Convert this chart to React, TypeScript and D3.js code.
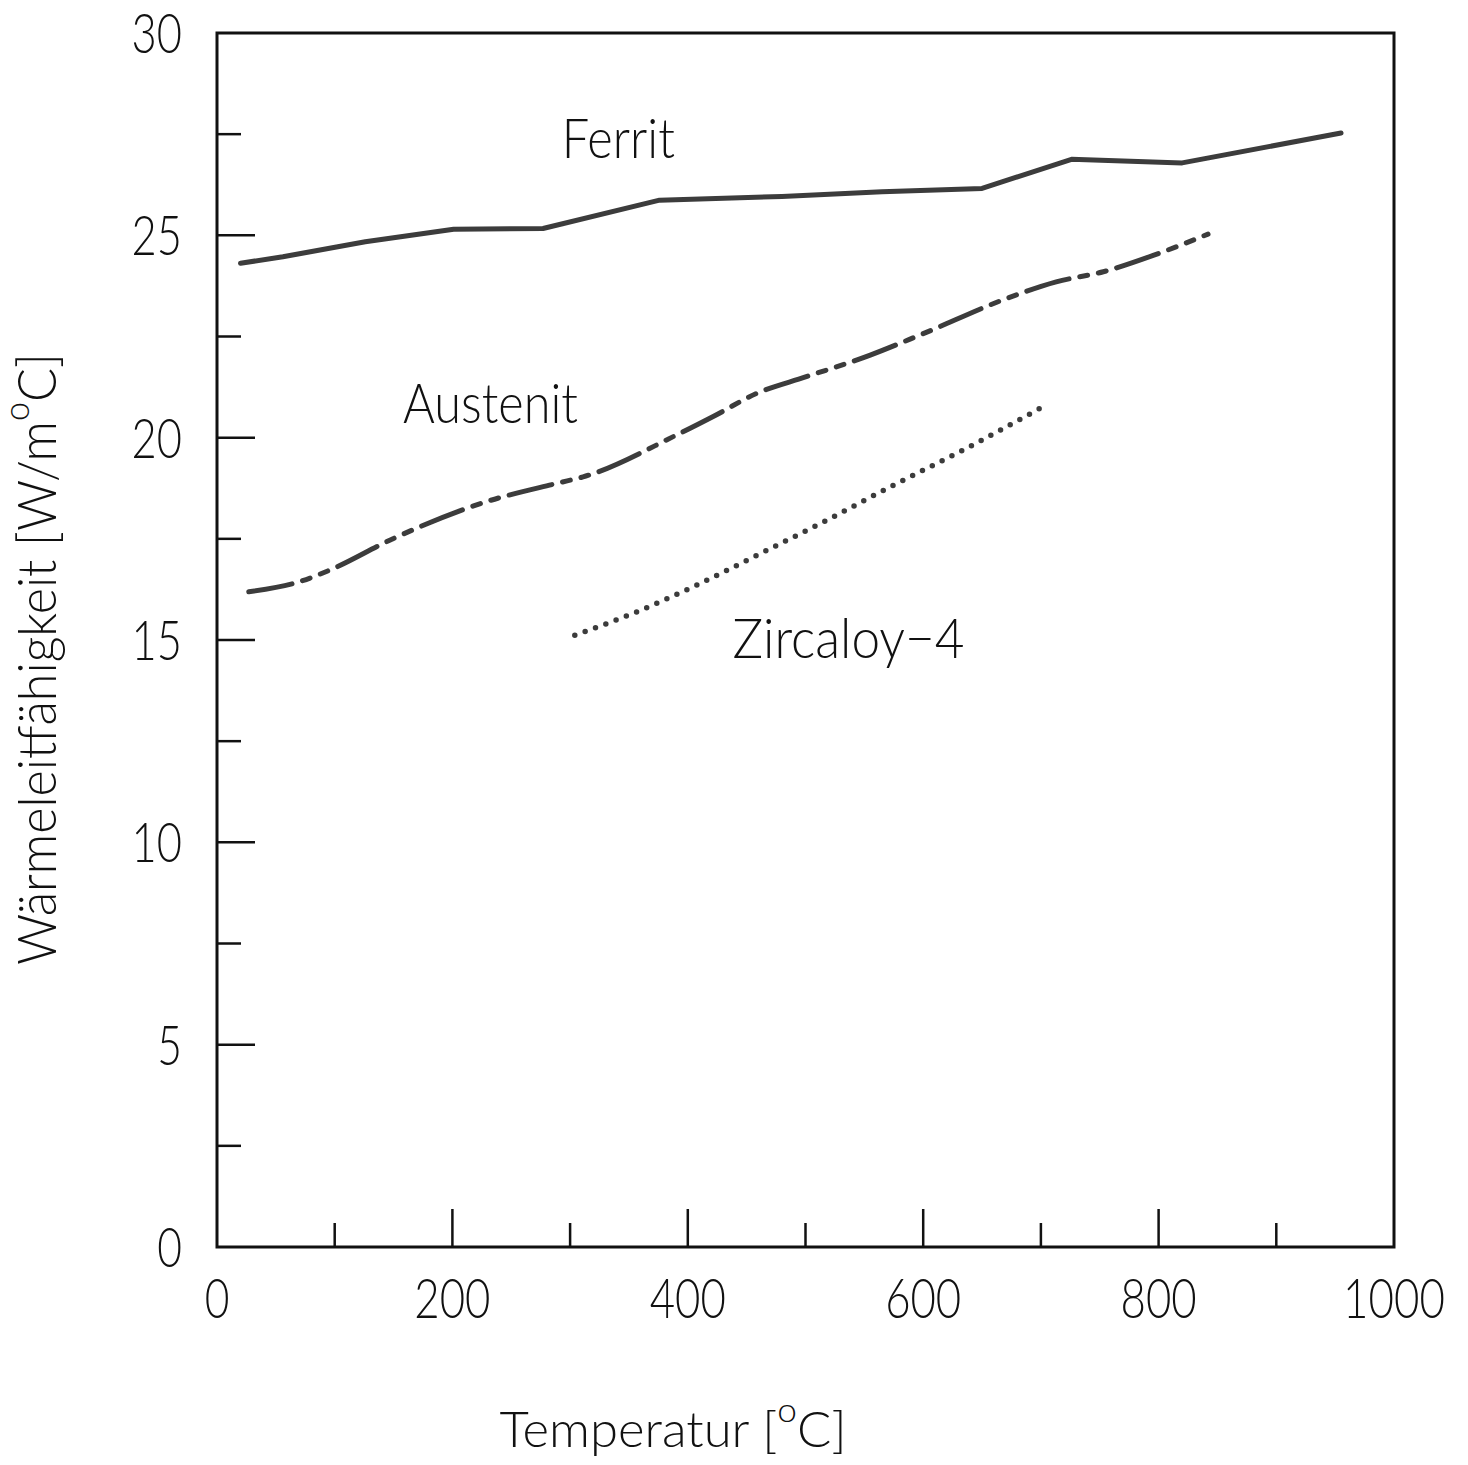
import React from "react";
import * as d3 from "d3";

// Wärmeleitfähigkeit über Temperatur für drei Hüllrohrwerkstoffe
const ferritT = [20, 56, 126, 201, 277, 376, 480, 565, 650, 726, 820, 955];
const ferritK = [24.31, 24.47, 24.84, 25.15, 25.17, 25.87, 25.96, 26.08, 26.16, 26.88, 26.79, 27.53];

const austenitT = [27, 70, 96, 150, 229, 290, 311, 390, 422, 459, 500, 555, 600, 671, 713, 753, 796, 842];
const austenitK = [16.19, 16.44, 16.73, 17.51, 18.42, 18.88, 19.03, 20.06, 20.53, 21.1, 21.5, 22.04, 22.57, 23.44, 23.85, 24.1, 24.51, 25.03];

const zircT = [304, 357, 405, 462, 518, 575, 631, 699];
const zircK = [15.12, 15.7, 16.32, 17.14, 17.96, 18.83, 19.65, 20.72];

const xTicks = [0, 100, 200, 300, 400, 500, 600, 700, 800, 900, 1000];
const xTickLabels = ["0", "200", "400", "600", "800", "1000"];
const yTicks = [0, 2.5, 5, 7.5, 10, 12.5, 15, 17.5, 20, 22.5, 25, 27.5, 30];
const yTickLabels = ["0", "5", "10", "15", "20", "25", "30"];

const seriesLabels = [
  { text: "Ferrit", t: 293, k: 26.9, len: 113 },
  { text: "Austenit", t: 158, k: 20.36, len: 175 },
  { text: "Zircaloy\u22124", t: 438, k: 14.55, len: 232 },
];

const W = 1468;
const H = 1465;
const M = { left: 217, right: 1394, top: 33, bottom: 1247 };
const FONT = "Lato, Inter, Roboto, sans-serif";
const INK = "#111";
const LINE = "#3c3c3c";

export default function App() {
  const x = d3.scaleLinear().domain([0, 1000]).range([M.left, M.right]);
  const y = d3.scaleLinear().domain([0, 30]).range([M.bottom, M.top]);

  const pts = (ts: number[], ks: number[]) => ts.map((t, i) => [t, ks[i]] as [number, number]);
  const linear = d3.line<[number, number]>().x((d) => x(d[0])).y((d) => y(d[1]));
  const smooth = d3
    .line<[number, number]>()
    .x((d) => x(d[0]))
    .y((d) => y(d[1]))
    .curve(d3.curveMonotoneX);

  const digitLen = (s: string) => 25.7 * s.length - 1;

  return (
    <svg
      width={W}
      height={H}
      viewBox={`0 0 ${W} ${H}`}
      style={{ position: "absolute", left: 0, top: 0, background: "#fff" }}
    >
      <rect x={0} y={0} width={W} height={H} fill="#fff" />

      {/* Rahmen */}
      <rect
        x={M.left}
        y={M.top}
        width={M.right - M.left}
        height={M.bottom - M.top}
        fill="none"
        stroke={INK}
        strokeWidth={3}
      />

      {/* x-Achse: Striche nach innen */}
      {xTicks.slice(1, -1).map((t) => (
        <line
          key={`xt${t}`}
          x1={x(t)}
          x2={x(t)}
          y1={M.bottom}
          y2={M.bottom - (t % 200 === 0 ? 38 : 24)}
          stroke={INK}
          strokeWidth={2.5}
        />
      ))}
      {xTickLabels.map((s) => (
        <text
          key={`xl${s}`}
          x={x(+s)}
          y={M.bottom + 71}
          textAnchor="middle"
          fontFamily={FONT}
          fontWeight={300}
          fontSize={56}
          fill={INK}
          textLength={digitLen(s)}
          lengthAdjust="spacingAndGlyphs"
        >
          {s}
        </text>
      ))}

      {/* y-Achse */}
      {yTicks.slice(1, -1).map((k) => (
        <line
          key={`yt${k}`}
          x1={M.left}
          x2={M.left + (k % 5 === 0 ? 38 : 24)}
          y1={y(k)}
          y2={y(k)}
          stroke={INK}
          strokeWidth={2.5}
        />
      ))}
      {yTickLabels.map((s) => (
        <text
          key={`yl${s}`}
          x={M.left - 35}
          y={y(+s) + 20}
          textAnchor="end"
          fontFamily={FONT}
          fontWeight={300}
          fontSize={56}
          fill={INK}
          textLength={digitLen(s)}
          lengthAdjust="spacingAndGlyphs"
        >
          {s}
        </text>
      ))}

      {/* Achsentitel */}
      <text
        x={673}
        y={1447}
        textAnchor="middle"
        fontFamily={FONT}
        fontWeight={300}
        fontSize={49}
        fill={INK}
        textLength={347}
        lengthAdjust="spacingAndGlyphs"
      >
        Temperatur [
        <tspan fontSize={34} dy={-25}>
          o
        </tspan>
        <tspan dy={25}>C]</tspan>
      </text>
      <text
        transform="translate(56,659) rotate(-90)"
        textAnchor="middle"
        fontFamily={FONT}
        fontWeight={300}
        fontSize={53}
        fill={INK}
        textLength={612}
        lengthAdjust="spacingAndGlyphs"
      >
        Wärmeleitfähigkeit [W/m
        <tspan fontSize={36} dy={-27}>
          o
        </tspan>
        <tspan dy={27}>C]</tspan>
      </text>

      {/* Kurven */}
      <path
        d={linear(pts(ferritT, ferritK)) || ""}
        fill="none"
        stroke={LINE}
        strokeWidth={5}
        strokeLinejoin="round"
        strokeLinecap="round"
      />
      <path
        d={smooth(pts(austenitT, austenitK)) || ""}
        fill="none"
        stroke={LINE}
        strokeWidth={5}
        strokeLinecap="round"
        strokeDasharray="44 11 8 11 8 11"
      />
      <path
        d={smooth(pts(zircT, zircK)) || ""}
        fill="none"
        stroke={LINE}
        strokeWidth={5.5}
        strokeLinecap="round"
        strokeDasharray="0 11"
      />

      {/* Kurvenbeschriftung */}
      {seriesLabels.map((l) => (
        <text
          key={l.text}
          x={x(l.t)}
          y={y(l.k)}
          fontFamily={FONT}
          fontWeight={300}
          fontSize={56}
          fill={INK}
          textLength={l.len}
          lengthAdjust="spacingAndGlyphs"
        >
          {l.text}
        </text>
      ))}
    </svg>
  );
}
